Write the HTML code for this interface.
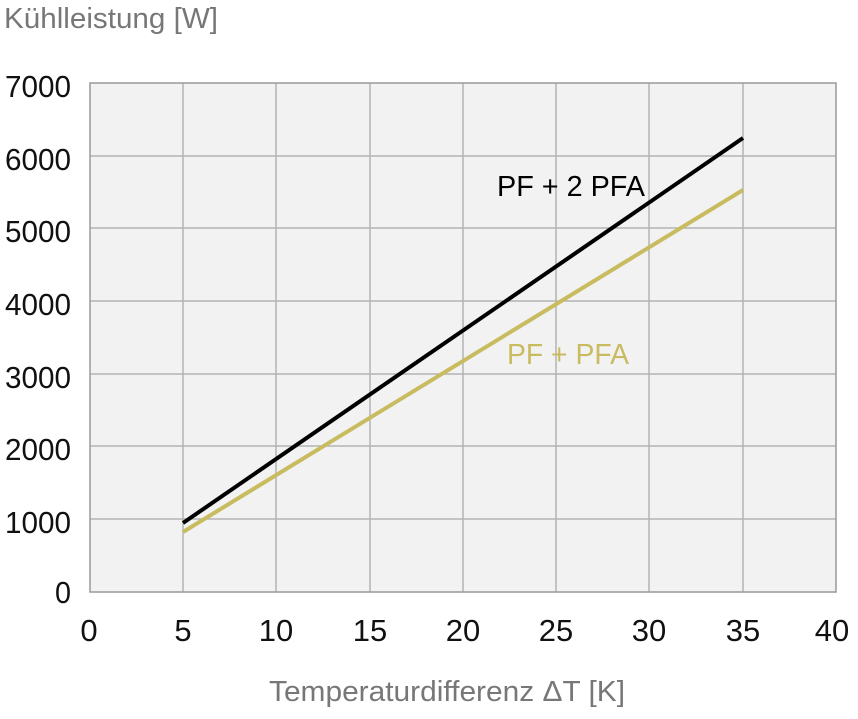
<!DOCTYPE html>
<html><head><meta charset="utf-8"><style>html,body{margin:0;padding:0;background:#fff}</style></head>
<body>
<svg width="858" height="714" xmlns="http://www.w3.org/2000/svg" font-family="'Liberation Sans Narrow','Liberation Sans',sans-serif">
<rect x="90" y="83" width="746" height="509" fill="#f2f2f2"/>
<g stroke="#b3b3b3" stroke-width="1.5">
<line x1="183" y1="83" x2="183" y2="592"/><line x1="276" y1="83" x2="276" y2="592"/>
<line x1="370" y1="83" x2="370" y2="592"/><line x1="463" y1="83" x2="463" y2="592"/>
<line x1="556" y1="83" x2="556" y2="592"/><line x1="649" y1="83" x2="649" y2="592"/>
<line x1="743" y1="83" x2="743" y2="592"/>
<line x1="90" y1="156" x2="836" y2="156"/><line x1="90" y1="228" x2="836" y2="228"/>
<line x1="90" y1="301" x2="836" y2="301"/><line x1="90" y1="374" x2="836" y2="374"/>
<line x1="90" y1="446" x2="836" y2="446"/><line x1="90" y1="519" x2="836" y2="519"/>
</g>
<rect x="90" y="83" width="746" height="509" fill="none" stroke="#999" stroke-width="1.5"/>
<line x1="183" y1="532" x2="743" y2="190" stroke="#c8bb60" stroke-width="4"/>
<line x1="183" y1="523" x2="743" y2="138" stroke="#000" stroke-width="4"/>
<g font-size="31" fill="#111" text-anchor="end">
<text x="71" y="97" textLength="66" lengthAdjust="spacingAndGlyphs">7000</text><text x="71" y="170" textLength="66" lengthAdjust="spacingAndGlyphs">6000</text>
<text x="71" y="242" textLength="66" lengthAdjust="spacingAndGlyphs">5000</text><text x="71" y="315" textLength="66" lengthAdjust="spacingAndGlyphs">4000</text>
<text x="71" y="388" textLength="66" lengthAdjust="spacingAndGlyphs">3000</text><text x="71" y="460" textLength="66" lengthAdjust="spacingAndGlyphs">2000</text>
<text x="71" y="533" textLength="66" lengthAdjust="spacingAndGlyphs">1000</text><text x="71" y="603" textLength="16" lengthAdjust="spacingAndGlyphs">0</text>
</g>
<g font-size="31" fill="#111" text-anchor="middle">
<text x="89" y="641">0</text><text x="183" y="641">5</text><text x="276" y="641">10</text>
<text x="370" y="641">15</text><text x="463" y="641">20</text><text x="556" y="641">25</text>
<text x="649" y="641">30</text><text x="743" y="641">35</text><text x="832" y="641">40</text>
</g>
<text x="4" y="28" font-size="29" fill="#777" textLength="214" lengthAdjust="spacingAndGlyphs">Kühlleistung [W]</text>
<text x="269" y="701" font-size="29" fill="#777" textLength="356" lengthAdjust="spacingAndGlyphs">Temperaturdifferenz ΔT [K]</text>
<text x="497" y="196" font-size="29" fill="#000" textLength="148" lengthAdjust="spacingAndGlyphs">PF + 2 PFA</text>
<text x="507" y="364" font-size="29" fill="#c8bb60" textLength="122" lengthAdjust="spacingAndGlyphs">PF + PFA</text>
</svg>
</body></html>
